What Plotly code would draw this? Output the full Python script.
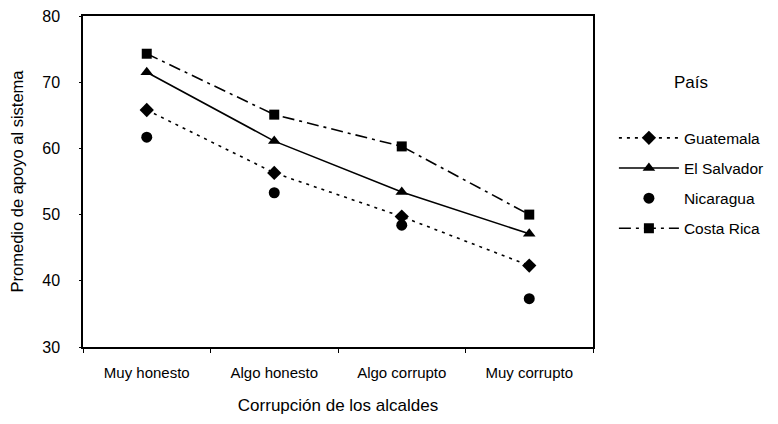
import plotly.graph_objects as go

categories = ["Muy honesto", "Algo honesto", "Algo corrupto", "Muy corrupto"]
guatemala = [65.8, 56.3, 49.7, 42.3]
el_salvador = [71.5, 61.1, 53.4, 47.1]
nicaragua = [61.7, 53.3, 48.4, 37.3]
costa_rica = [74.3, 65.1, 60.3, 50.0]
yticks = [30, 40, 50, 60, 70, 80]

xpos = [i + 0.5 for i in range(len(categories))]
font = "Liberation Sans, Arial, sans-serif"

fig = go.Figure()
fig.add_trace(go.Scatter(x=xpos, y=guatemala, name="Guatemala", mode="lines+markers",
                         line=dict(color="black", width=1.6, dash="3px,5px"),
                         marker=dict(symbol="diamond", size=11, color="black"),
                         legendgroup="g1"))
fig.add_trace(go.Scatter(x=xpos, y=el_salvador, name="El Salvador", mode="lines+markers",
                         line=dict(color="black", width=1.6),
                         marker=dict(symbol="triangle-up", size=11, color="black"),
                         legendgroup="g2"))
fig.add_trace(go.Scatter(x=xpos, y=nicaragua, name="Nicaragua", mode="markers",
                         marker=dict(symbol="circle", size=11, color="black"),
                         legendgroup="g3"))
fig.add_trace(go.Scatter(x=xpos, y=costa_rica, name="Costa Rica", mode="lines+markers",
                         line=dict(color="black", width=1.6, dash="12px,5px,3px,5px"),
                         marker=dict(symbol="square", size=10, color="black"),
                         legendgroup="g4"))

# page body adds an 8px offset, so the figure is sized to fit the window
fig.update_layout(
    width=770, height=416,
    margin=dict(l=75, r=185, t=8, b=77),
    paper_bgcolor="white", plot_bgcolor="white",
    font=dict(family=font, size=15, color="black"),
    showlegend=True,
    legend=dict(x=1.041, xanchor="left", y=0.682, yanchor="top",
                font=dict(size=15.5, family=font), itemwidth=60,
                tracegroupgap=7, bgcolor="rgba(0,0,0,0)"),
    annotations=[dict(text="País", x=1.192, y=0.798, xref="paper", yref="paper",
                      showarrow=False, xanchor="center", yanchor="middle",
                      font=dict(size=17, family=font))],
)
fig.update_xaxes(range=[0, 4], tickvals=xpos, ticktext=categories, ticks="",
                 showline=True, linecolor="black", linewidth=1.5, mirror=True,
                 showgrid=False, zeroline=False, automargin=False,
                 tickfont=dict(size=15), ticklabelstandoff=11,
                 minor=dict(tickmode="array", tickvals=[0, 1, 2, 3, 4], ticks="outside",
                            ticklen=4, tickcolor="black"),
                 title=dict(text="Corrupción de los alcaldes", font=dict(size=17), standoff=19))
fig.update_yaxes(range=[30, 80], tickvals=yticks, ticks="outside", ticklen=2,
                 tickcolor="black", showline=True, linecolor="black", linewidth=1.5,
                 mirror=True, showgrid=False, zeroline=False, automargin=False,
                 tickfont=dict(size=16), ticklabelstandoff=16, ticklabeloverflow="allow",
                 title=dict(text="Promedio de apoyo al sistema", font=dict(size=16.5), standoff=14))

fig.write_html("out.html")
